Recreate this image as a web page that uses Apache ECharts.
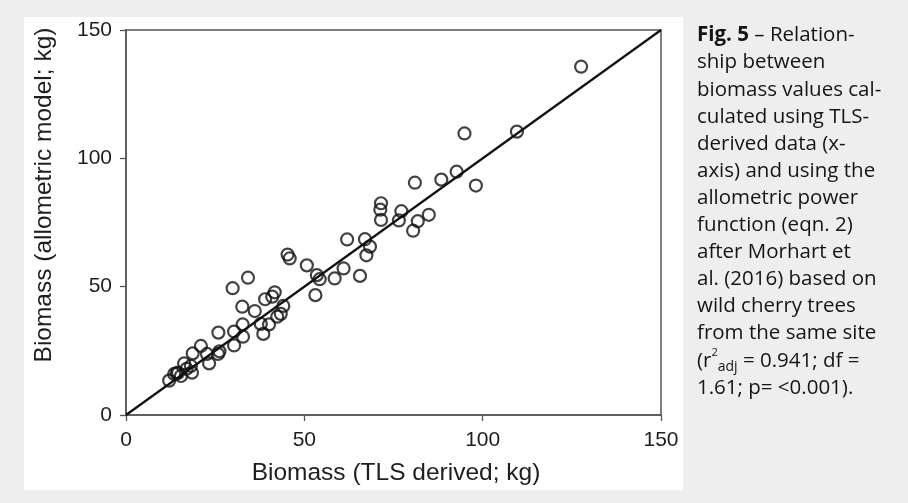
<!DOCTYPE html>
<html>
<head>
<meta charset="utf-8">
<script src="https://cdn.jsdelivr.net/npm/echarts@6/dist/echarts.min.js"></script>
<style>
html,body{margin:0;padding:0;background:#eeeeee;}
#chart{width:908px;height:503px;}
</style>
</head>
<body>
<div id="chart"></div>
<script>
// Biomass (TLS derived; kg)
var tlsBiomass = [12.1, 13.5, 14.2, 15.4, 14.6, 16.3, 17.0, 18.2, 18.5, 18.7,
  21.0, 22.7, 23.3, 25.8, 26.2, 25.9, 29.9, 30.3, 30.3, 32.8,
  32.7, 32.6, 34.2, 36.1, 37.8, 38.5, 40.1, 39.0, 41.0, 41.7,
  42.4, 43.4, 44.1, 45.3, 45.9, 50.7, 53.5, 54.3, 53.1, 58.5,
  61.0, 62.0, 65.6, 67.0, 68.4, 67.4, 71.5, 71.3, 71.5, 77.2,
  76.5, 80.5, 81.8, 81.0, 84.9, 88.4, 92.7, 94.9, 98.1, 109.6, 127.6];
// Biomass (allometric model; kg)
var modelBiomass = [13.4, 16.0, 16.2, 15.2, 16.5, 20.1, 18.0, 19.1, 16.5, 24.0,
  26.9, 23.8, 20.1, 23.8, 24.8, 32.1, 49.4, 27.1, 32.5, 30.5,
  35.3, 42.2, 53.5, 40.5, 35.5, 31.6, 35.3, 45.1, 46.1, 47.8,
  38.3, 39.4, 42.5, 62.5, 61.0, 58.3, 54.5, 52.9, 46.7, 53.2,
  57.1, 68.4, 54.2, 68.5, 65.6, 62.2, 82.5, 80.0, 76.0, 79.4,
  75.8, 71.8, 75.5, 90.5, 78.0, 91.7, 94.8, 109.7, 89.4, 110.4, 135.7];
// 1:1 reference line
var lineX = [0, 150];
var lineY = [0, 150];
var tickValues = [0, 50, 100, 150];

var xTitle = 'Biomass (TLS derived; kg)';
var yTitle = 'Biomass (allometric model; kg)';
var captionLines = [
  '{b|Fig. 5} – Relation-',
  'ship between',
  'biomass values cal-',
  'culated using TLS-',
  'derived data (x-',
  'axis) and using the',
  'allometric power',
  'function (eqn. 2)',
  'after Morhart et',
  'al. (2016) based on',
  'wild cherry trees',
  'from the same site',
  '(r{sup|2}{sub|adj} = 0.941; df =',
  '1.61; p= <0.001).'
];

var scatterData = tlsBiomass.map(function (x, i) { return [x, modelBiomass[i]]; });
var lineData = lineX.map(function (x, i) { return [x, lineY[i]]; });

var chart = echarts.init(document.getElementById('chart'), null, {renderer: 'canvas'});
var axisCommon = {
  type: 'value', min: 0, max: 150, interval: 50,
  splitLine: {show: false},
  axisLine: {show: true, lineStyle: {color: '#555', width: 1.5}},
  axisTick: {show: true, length: 6, inside: false, lineStyle: {color: '#555', width: 1.3}},
  axisLabel: {color: '#1e1e1e', fontFamily: 'Liberation Sans, Arial', fontSize: 21}
};
chart.setOption({
  backgroundColor: '#eeeeee',
  animation: false,
  graphic: [
    {type: 'rect', shape: {x: 24, y: 17, width: 659, height: 473}, style: {fill: '#ffffff'}, z: -10},
    {type: 'text', x: 44, y: 195, rotation: Math.PI / 2,
     style: {text: yTitle, fill: '#1e1e1e', font: '24.5px "Liberation Sans", Arial', align: 'center', verticalAlign: 'middle'}},
    {type: 'text', x: 396, y: 473,
     style: {text: xTitle, fill: '#1e1e1e', font: '24.5px "Liberation Sans", Arial', align: 'center', verticalAlign: 'middle'}},
    {type: 'text', x: 697, y: 22,
     style: {
       text: captionLines.join('\n'),
       fill: '#151515', fontFamily: 'Open Sans', fontSize: 20.5, lineHeight: 27.1,
       align: 'left', verticalAlign: 'top',
       rich: {
         b: {fontWeight: 'bold', fontFamily: 'Open Sans', fontSize: 20.5, lineHeight: 27.1, fill: '#151515'},
         sup: {fontSize: 11, fontFamily: 'Open Sans', lineHeight: 12, verticalAlign: 'top', fill: '#151515'},
         sub: {fontSize: 14, fontFamily: 'Open Sans', lineHeight: 15, verticalAlign: 'bottom', fill: '#151515'}
       }
     }}
  ],
  grid: {left: 126, right: 247, top: 30, bottom: 88, show: true, borderColor: '#555', borderWidth: 1.5, backgroundColor: 'transparent'},
  xAxis: Object.assign({}, axisCommon, {axisLabel: Object.assign({}, axisCommon.axisLabel, {margin: 15})}),
  yAxis: Object.assign({}, axisCommon, {axisLabel: Object.assign({}, axisCommon.axisLabel, {margin: 14})}),
  series: [
    {type: 'line', data: lineData, symbol: 'none', lineStyle: {color: '#111', width: 2.2}, z: 2},
    {type: 'scatter', data: scatterData, symbol: 'circle', symbolSize: 12,
     itemStyle: {color: 'rgba(255,255,255,0)', borderColor: '#111', borderWidth: 2.2}, z: 3}
  ]
});
</script>
</body>
</html>
